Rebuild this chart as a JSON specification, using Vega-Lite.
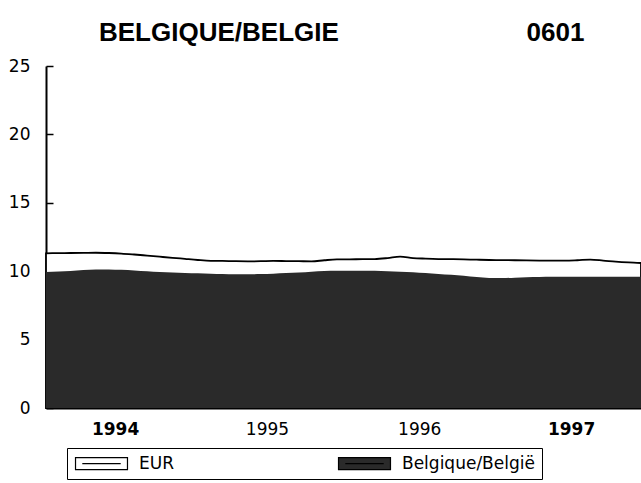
{
  "$schema": "https://vega.github.io/schema/vega-lite/v6.json",
  "width": 595,
  "height": 342,
  "autosize": {"type": "none"},
  "padding": {"left": 46, "top": 66, "right": 0, "bottom": 75},
  "background": "white",
  "config": {"view": {"stroke": null}, "font": "DejaVu Sans"},
  "title": {
    "text": "BELGIQUE/BELGIE\u00a0\u00a0\u00a0\u00a0\u00a0\u00a0\u00a0\u00a0\u00a0\u00a0\u00a0\u00a0\u00a0\u00a0\u00a0\u00a0\u00a0\u00a0\u00a0\u00a0\u00a0\u00a0\u00a0\u00a0\u00a0\u00a00601",
    "anchor": "start",
    "frame": "group",
    "dx": 53,
    "offset": -10,
    "baseline": "alphabetic",
    "font": "Liberation Sans",
    "fontSize": 26,
    "fontWeight": "bold",
    "color": "black"
  },
  "data": {
    "values": [
      {"date": "1994-01-01", "series": "EUR", "value": 11.31},
      {"date": "1994-02-01", "series": "EUR", "value": 11.32},
      {"date": "1994-03-01", "series": "EUR", "value": 11.33},
      {"date": "1994-04-01", "series": "EUR", "value": 11.34},
      {"date": "1994-05-01", "series": "EUR", "value": 11.35},
      {"date": "1994-06-01", "series": "EUR", "value": 11.33},
      {"date": "1994-07-01", "series": "EUR", "value": 11.29},
      {"date": "1994-08-01", "series": "EUR", "value": 11.22},
      {"date": "1994-09-01", "series": "EUR", "value": 11.14},
      {"date": "1994-10-01", "series": "EUR", "value": 11.06},
      {"date": "1994-11-01", "series": "EUR", "value": 10.98},
      {"date": "1994-12-01", "series": "EUR", "value": 10.9},
      {"date": "1995-01-01", "series": "EUR", "value": 10.82},
      {"date": "1995-02-01", "series": "EUR", "value": 10.76},
      {"date": "1995-03-01", "series": "EUR", "value": 10.75},
      {"date": "1995-04-01", "series": "EUR", "value": 10.73},
      {"date": "1995-05-01", "series": "EUR", "value": 10.72},
      {"date": "1995-06-01", "series": "EUR", "value": 10.73},
      {"date": "1995-07-01", "series": "EUR", "value": 10.75},
      {"date": "1995-08-01", "series": "EUR", "value": 10.74},
      {"date": "1995-09-01", "series": "EUR", "value": 10.73},
      {"date": "1995-10-01", "series": "EUR", "value": 10.72},
      {"date": "1995-11-01", "series": "EUR", "value": 10.8},
      {"date": "1995-12-01", "series": "EUR", "value": 10.86},
      {"date": "1996-01-01", "series": "EUR", "value": 10.87},
      {"date": "1996-02-01", "series": "EUR", "value": 10.88},
      {"date": "1996-03-01", "series": "EUR", "value": 10.89},
      {"date": "1996-04-01", "series": "EUR", "value": 10.96},
      {"date": "1996-05-01", "series": "EUR", "value": 11.06},
      {"date": "1996-06-01", "series": "EUR", "value": 10.96},
      {"date": "1996-07-01", "series": "EUR", "value": 10.92},
      {"date": "1996-08-01", "series": "EUR", "value": 10.89},
      {"date": "1996-09-01", "series": "EUR", "value": 10.88},
      {"date": "1996-10-01", "series": "EUR", "value": 10.86},
      {"date": "1996-11-01", "series": "EUR", "value": 10.84},
      {"date": "1996-12-01", "series": "EUR", "value": 10.82},
      {"date": "1997-01-01", "series": "EUR", "value": 10.81},
      {"date": "1997-02-01", "series": "EUR", "value": 10.8},
      {"date": "1997-03-01", "series": "EUR", "value": 10.79},
      {"date": "1997-04-01", "series": "EUR", "value": 10.78},
      {"date": "1997-05-01", "series": "EUR", "value": 10.77},
      {"date": "1997-06-01", "series": "EUR", "value": 10.77},
      {"date": "1997-07-01", "series": "EUR", "value": 10.8},
      {"date": "1997-08-01", "series": "EUR", "value": 10.85},
      {"date": "1997-09-01", "series": "EUR", "value": 10.78},
      {"date": "1997-10-01", "series": "EUR", "value": 10.7},
      {"date": "1997-11-01", "series": "EUR", "value": 10.64},
      {"date": "1997-12-01", "series": "EUR", "value": 10.6},
      {"date": "1994-01-01", "series": "Belgique/België", "value": 9.95},
      {"date": "1994-02-01", "series": "Belgique/België", "value": 9.97},
      {"date": "1994-03-01", "series": "Belgique/België", "value": 10.02},
      {"date": "1994-04-01", "series": "Belgique/België", "value": 10.08},
      {"date": "1994-05-01", "series": "Belgique/België", "value": 10.13},
      {"date": "1994-06-01", "series": "Belgique/België", "value": 10.13},
      {"date": "1994-07-01", "series": "Belgique/België", "value": 10.1},
      {"date": "1994-08-01", "series": "Belgique/België", "value": 10.06},
      {"date": "1994-09-01", "series": "Belgique/België", "value": 10.0},
      {"date": "1994-10-01", "series": "Belgique/België", "value": 9.94},
      {"date": "1994-11-01", "series": "Belgique/België", "value": 9.9},
      {"date": "1994-12-01", "series": "Belgique/België", "value": 9.87},
      {"date": "1995-01-01", "series": "Belgique/België", "value": 9.85},
      {"date": "1995-02-01", "series": "Belgique/België", "value": 9.82},
      {"date": "1995-03-01", "series": "Belgique/België", "value": 9.8},
      {"date": "1995-04-01", "series": "Belgique/België", "value": 9.78},
      {"date": "1995-05-01", "series": "Belgique/België", "value": 9.77},
      {"date": "1995-06-01", "series": "Belgique/België", "value": 9.79},
      {"date": "1995-07-01", "series": "Belgique/België", "value": 9.82},
      {"date": "1995-08-01", "series": "Belgique/België", "value": 9.86},
      {"date": "1995-09-01", "series": "Belgique/België", "value": 9.9},
      {"date": "1995-10-01", "series": "Belgique/België", "value": 9.96},
      {"date": "1995-11-01", "series": "Belgique/België", "value": 10.01},
      {"date": "1995-12-01", "series": "Belgique/België", "value": 10.03},
      {"date": "1996-01-01", "series": "Belgique/België", "value": 10.04},
      {"date": "1996-02-01", "series": "Belgique/België", "value": 10.04},
      {"date": "1996-03-01", "series": "Belgique/België", "value": 10.03},
      {"date": "1996-04-01", "series": "Belgique/België", "value": 10.0},
      {"date": "1996-05-01", "series": "Belgique/België", "value": 9.96},
      {"date": "1996-06-01", "series": "Belgique/België", "value": 9.92},
      {"date": "1996-07-01", "series": "Belgique/België", "value": 9.86},
      {"date": "1996-08-01", "series": "Belgique/België", "value": 9.8},
      {"date": "1996-09-01", "series": "Belgique/België", "value": 9.74},
      {"date": "1996-10-01", "series": "Belgique/België", "value": 9.66},
      {"date": "1996-11-01", "series": "Belgique/België", "value": 9.57},
      {"date": "1996-12-01", "series": "Belgique/België", "value": 9.5},
      {"date": "1997-01-01", "series": "Belgique/België", "value": 9.5},
      {"date": "1997-02-01", "series": "Belgique/België", "value": 9.53},
      {"date": "1997-03-01", "series": "Belgique/België", "value": 9.56},
      {"date": "1997-04-01", "series": "Belgique/België", "value": 9.58},
      {"date": "1997-05-01", "series": "Belgique/België", "value": 9.6},
      {"date": "1997-06-01", "series": "Belgique/België", "value": 9.6},
      {"date": "1997-07-01", "series": "Belgique/België", "value": 9.6},
      {"date": "1997-08-01", "series": "Belgique/België", "value": 9.6},
      {"date": "1997-09-01", "series": "Belgique/België", "value": 9.6},
      {"date": "1997-10-01", "series": "Belgique/België", "value": 9.6},
      {"date": "1997-11-01", "series": "Belgique/België", "value": 9.6},
      {"date": "1997-12-01", "series": "Belgique/België", "value": 9.6}
    ]
  },
  "encoding": {
    "x": {
      "field": "date",
      "type": "temporal",
      "title": null,
      "scale": {
        "type": "utc",
        "domain": [
          {"year": 1994, "month": 1, "date": 1, "utc": true},
          {"year": 1997, "month": 12, "date": 1, "utc": true}
        ]
      },
      "axis": {
        "values": [
          {"year": 1994, "month": 6, "date": 16, "utc": true},
          {"year": 1995, "month": 1, "date": 1, "utc": true},
          {"year": 1995, "month": 6, "date": 16, "utc": true},
          {"year": 1996, "month": 1, "date": 1, "utc": true},
          {"year": 1996, "month": 6, "date": 16, "utc": true},
          {"year": 1997, "month": 1, "date": 1, "utc": true},
          {"year": 1997, "month": 6, "date": 16, "utc": true}
        ],
        "format": "%Y",
        "labelExpr": "utcmonth(datum.value) == 5 ? datum.label : ''",
        "tickSize": -5,
        "tickWidth": 2,
        "tickColor": "black",
        "tickOpacity": {"condition": {"test": "utcmonth(datum.value) == 5", "value": 0}, "value": 1},
        "domainColor": "black",
        "domainWidth": 2,
        "grid": false,
        "labelFont": "DejaVu Sans",
        "labelFontSize": 17,
        "labelColor": "black",
        "labelFontWeight": {"condition": {"test": "utcyear(datum.value) == 1994 || utcyear(datum.value) == 1997", "value": "bold"}, "value": "normal"},
        "labelPadding": 18,
        "labelFlush": false,
        "labelOverlap": false
      }
    },
    "y": {
      "field": "value",
      "type": "quantitative",
      "title": null,
      "scale": {"domain": [0, 25], "nice": false},
      "axis": {
        "values": [0, 5, 10, 15, 20, 25],
        "tickSize": -7,
        "tickWidth": 1.5,
        "tickColor": "black",
        "domainColor": "black",
        "domainWidth": 2,
        "grid": false,
        "labelFont": "DejaVu Sans",
        "labelFontSize": 17,
        "labelColor": "black",
        "labelPadding": 23
      }
    },
    "fill": {
      "field": "series",
      "type": "nominal",
      "scale": {"domain": ["EUR", "Belgique/België"], "range": ["white", "#2a2a2a"]},
      "legend": {
        "orient": "none",
        "legendX": 21,
        "legendY": 382,
        "direction": "horizontal",
        "title": "\u00a0\u00a0\u00a0\u00a0\u00a0\u00a0\u00a0\u00a0\u00a0\u00a0\u00a0\u00a0\u00a0\u00a0\u00a0\u00a0\u00a0\u00a0\u00a0\u00a0",
        "titleOrient": "right",
        "titlePadding": 0,
        "titleFont": "DejaVu Sans",
        "titleFontSize": 17,
        "titleLimit": 0,
        "strokeColor": "black",
        "padding": 7,
        "symbolType": "M-4.33,-1H4.33V1H-4.33Z M-3.2,0H3.2",
        "symbolSize": 144,
        "symbolOffset": 19,
        "symbolStrokeColor": "black",
        "symbolStrokeWidth": 1.2,
        "symbolOpacity": 1,
        "labelFont": "DejaVu Sans",
        "labelFontSize": 17,
        "labelColor": "black",
        "labelOffset": 29,
        "columnPadding": 162,
        "labelLimit": 0
      }
    }
  },
  "layer": [
    {
      "transform": [{"filter": "datum.series == 'EUR'"}],
      "mark": {"type": "area", "stroke": "black", "strokeWidth": 1.8, "opacity": 1, "fillOpacity": 1, "interpolate": "monotone"}
    },
    {
      "transform": [{"filter": "datum.series == 'Belgique/België'"}],
      "mark": {"type": "area", "opacity": 1, "fillOpacity": 1, "interpolate": "monotone"}
    }
  ]
}
